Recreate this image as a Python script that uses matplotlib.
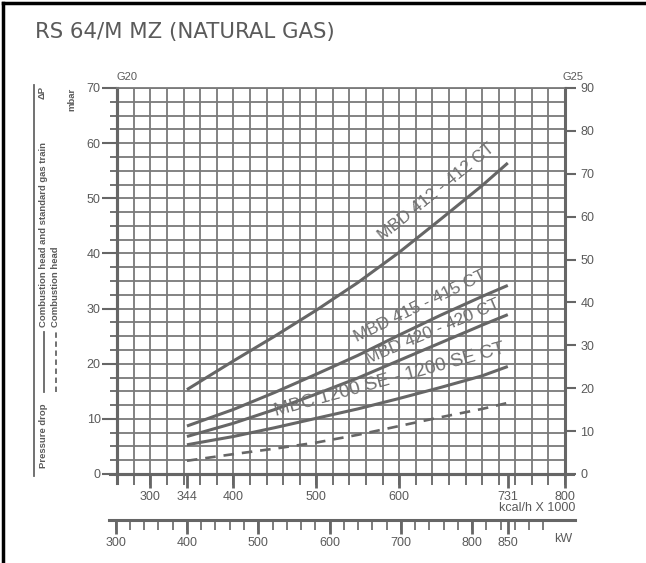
import numpy as np
import matplotlib.pyplot as plt
from matplotlib.lines import Line2D

plt.rcParams["font.family"] = ["Liberation Sans", "DejaVu Sans"]

GRAY = "#666666"
TXT = "#5a5a5a"

# burner output, kcal/h x 1000
kcal = [344, 400, 450, 500, 550, 600, 650, 700, 731]
# pressure drop, mbar (G20)
mbd412 = [15.3, 20.5, 25.0, 29.7, 34.7, 40.2, 46.2, 52.3, 56.4]
mbd415 = [8.7, 11.7, 14.8, 18.1, 21.5, 25.2, 28.8, 32.2, 34.2]
mbd420 = [6.8, 9.2, 11.7, 14.5, 17.4, 20.6, 23.8, 27.0, 28.9]
mbc1200 = [5.3, 6.8, 8.4, 10.1, 11.8, 13.7, 15.7, 17.8, 19.5]
head = [2.4, 3.6, 4.6, 5.7, 7.1, 8.7, 10.3, 11.8, 12.9]

kcal_ticks = [300, 344, 400, 500, 600, 731, 800]
kw_ticks = [300, 400, 500, 600, 700, 800, 850]

W, H = 646, 563
fig = plt.figure(figsize=(W / 100, H / 100), dpi=100)

def fx(px):
    return px / W

def fy(py):
    return (H - py) / H

x0, x1, y0, y1 = 117.3, 565, 474, 88
ax = fig.add_axes([fx(x0), fy(y0), fx(x1 - x0), (y0 - y1) / H])
ax.set_xlim(260, 800)
ax.set_ylim(0, 70)
ax.xaxis.remove_overlapping_locs = False
ax.yaxis.remove_overlapping_locs = False

# grid
ax.set_xticks(kcal_ticks)
ax.set_xticklabels([str(t) for t in kcal_ticks])
ax.set_xticks(np.arange(260, 801, 20), minor=True)
ax.set_yticks(np.arange(0, 71, 10))
ax.set_yticks(np.arange(0, 70.1, 2.5), minor=True)
ax.grid(which="minor", color="#7a7a7a", lw=1.3)
ax.set_axisbelow(True)
ax.tick_params(which="major", axis="x", length=10, width=2, color=GRAY,
               labelcolor=TXT, labelsize=9, pad=2)
ax.tick_params(which="minor", axis="x", length=8, width=1.3, color=GRAY)
ax.tick_params(which="major", axis="y", length=11, width=1.5, color=GRAY,
               labelcolor=TXT, labelsize=9, pad=1)
ax.tick_params(which="minor", axis="y", length=5, width=1.3, color=GRAY)
for s in ["left", "bottom", "right"]:
    ax.spines[s].set_color(GRAY)
    ax.spines[s].set_linewidth(2.2)
ax.spines["top"].set_color("#7a7a7a")
ax.spines["top"].set_linewidth(1.3)

# spine extensions
ax.add_line(Line2D([0, 0], [-9 / 386, 1], transform=ax.transAxes, color=GRAY,
                   lw=2.2, clip_on=False))
ax.add_line(Line2D([-7 / 448, 1 + 8 / 448], [0, 0], transform=ax.transAxes,
                   color=GRAY, lw=2.2, clip_on=False))

# curves
for ys in [mbd412, mbd415, mbd420, mbc1200]:
    ax.plot(kcal, ys, color=GRAY, lw=2.2, solid_capstyle="butt", clip_on=False)
ax.plot(kcal, head, color=GRAY, lw=1.9, ls=(0, (4, 3)), clip_on=False)

lab_kw = dict(color="#707070", ha="center", va="center",
              rotation_mode="anchor")
ax.text(645, 51.2, "MBD 412 - 412 CT", rotation=39, fontsize=12.5, **lab_kw)
ax.text(625, 30.5, "MBD 415 - 415 CT", rotation=26, fontsize=12.5, **lab_kw)
ax.text(640, 25.9, "MBD 420 - 420 CT", rotation=23, fontsize=12.5, **lab_kw)
ax.text(589, 17.1, "MBC 1200 SE - 1200 SE CT", rotation=15.4, fontsize=13.5,
        **lab_kw)

# right scale (G25)
ax2 = ax.twinx()
ax2.set_ylim(0, 90)
ax2.set_yticks(np.arange(0, 91, 10))
ax2.tick_params(axis="y", length=8, width=1.5, color=GRAY, labelcolor=TXT,
                labelsize=9, pad=3)
for s in ax2.spines.values():
    s.set_visible(False)

# kW scale
kx0, kx1 = 108.5, 575
kw_lo = (260 + (kx0 - x0) / ((x1 - x0) / 540)) / 0.86
kw_hi = (260 + (kx1 - x0) / ((x1 - x0) / 540)) / 0.86
axk = fig.add_axes([fx(kx0), fy(520), fx(kx1 - kx0), 0.001])
axk.set_xlim(kw_lo, kw_hi)
axk.xaxis.remove_overlapping_locs = False
axk.set_xticks(kw_ticks)
axk.set_xticklabels([str(t) for t in kw_ticks])
axk.set_xticks(np.arange(300, 901, 20), minor=True)
axk.set_yticks([])
for s in ["left", "right", "top"]:
    axk.spines[s].set_visible(False)
axk.spines["bottom"].set_color(GRAY)
axk.spines["bottom"].set_linewidth(2.2)
axk.tick_params(which="major", axis="x", length=10, width=2, color=GRAY,
                labelcolor=TXT, labelsize=9, pad=2)
axk.tick_params(which="minor", axis="x", length=7, width=1.2, color=GRAY)
axk.patch.set_visible(False)

# texts
fig.text(fx(35), fy(32), "RS 64/M MZ (NATURAL GAS)", fontsize=15.3,
         family="DejaVu Sans", color=TXT, va="center", ha="left")
fig.text(fx(127), fy(77), "G20", fontsize=8, color=TXT, ha="center", va="center")
fig.text(fx(573), fy(77), "G25", fontsize=8, color=TXT, ha="center", va="center")
fig.text(fx(575), fy(508), "kcal/h X 1000", fontsize=9, color=TXT,
         ha="right", va="center")
fig.text(fx(563), fy(539), "kW", fontsize=9, color=TXT, ha="center",
         va="center")

# left legend
fig.add_artist(Line2D([fx(33.5)] * 2, [fy(476), fy(85)], color=GRAY, lw=1.3))
small = dict(fontsize=6.8, color=TXT, rotation=90, ha="center",
             fontweight="bold")
fig.text(fx(42), fy(86), "ΔP", va="top", **small)
fig.text(fx(72), fy(88), "mbar", va="top", **small)
fig.text(fx(44), fy(468), "Pressure drop", va="bottom", **small)
fig.add_artist(Line2D([fx(44)] * 2, [fy(392), fy(332)], color=GRAY, lw=1.3))
fig.text(fx(44), fy(327), "Combustion head and standard gas train",
         va="bottom", **small)
fig.add_artist(Line2D([fx(56)] * 2, [fy(392), fy(332)], color=GRAY, lw=1.3,
                      ls=(0, (3, 2))))
fig.text(fx(56), fy(327), "Combustion head", va="bottom", **small)

# frame
fig.add_artist(Line2D([fx(3), fx(3)], [0, fy(3)], color="black", lw=2.5))
fig.add_artist(Line2D([fx(3), 1], [fy(3), fy(3)], color="black", lw=2.5))

fig.savefig("out.png", dpi=100)
